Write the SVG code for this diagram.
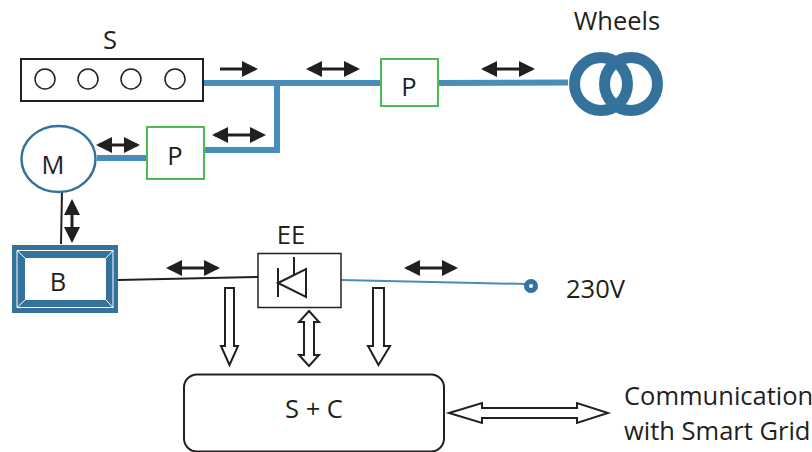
<svg xmlns="http://www.w3.org/2000/svg" width="812" height="452" viewBox="0 0 812 452">
<style>
text{font-family:"Open Sans","Noto Sans","Liberation Sans",sans-serif;fill:#231f20;font-size:25.500px}
.m{text-anchor:middle}
.pipe{fill:none;stroke:#4a8dbb;stroke-width:6}
.blk{fill:none;stroke:#231f20}
.green{fill:#fff;stroke:#4cbb52;stroke-width:2}
.hollow{fill:#fff;stroke:#231f20;stroke-width:2}
.ring{fill:none;stroke:#34729b;stroke-width:11}
.da{stroke:#231f20;stroke-width:3;fill:none;marker-start:url(#ah);marker-end:url(#ah)}
</style>
<defs>
<marker id="ah" viewBox="0 0 16 16" refX="13" refY="8" markerWidth="16" markerHeight="16" markerUnits="userSpaceOnUse" orient="auto-start-reverse"><path d="M0 0L16 8L0 16Z" fill="#231f20"/></marker>
<marker id="ah1" viewBox="0 0 16 16" refX="13" refY="8" markerWidth="16" markerHeight="16" markerUnits="userSpaceOnUse" orient="auto"><path d="M0 0L16 8L0 16Z" fill="#231f20"/></marker>
</defs>
<g id="connectors">
<path class="pipe" d="M203 83H381M277 83V150H204"/>
<path class="pipe" d="M97 158H147"/>
<path class="pipe" d="M438 83L568 82.500"/>
<path class="blk" stroke-width="2" d="M62 191L61 244"/>
<path class="blk" stroke-width="2" d="M118 280L258 277"/>
<path fill="none" stroke="#4a8dbb" stroke-width="2" d="M341 280L526 284"/>
<path d="M220 69H255" stroke="#231f20" stroke-width="3" fill="none" marker-end="url(#ah1)"/>
<path class="da" d="M309 69H357"/>
<path class="da" d="M484 69H532"/>
<path class="da" d="M215 135H263"/>
<path class="da" d="M99 145H137"/>
<path class="da" d="M72 202V240"/>
<path class="da" d="M169 268H217"/>
<path class="da" d="M407 268H455"/>
<path class="hollow" d="M225 288H234V346H238L229.500 365L221 346H225Z"/>
<path class="hollow" d="M309 311L319 322H314V355H319L309 366L299 355H304V322H299Z"/>
<path class="hollow" d="M373 288H384V346H390L378.500 365L368 346H373Z"/>
<path class="hollow" d="M449 413L482 403V408H577V403L608 413L577 423V418H482V423Z"/>
</g>
<g id="node-s">
<text class="m" x="110" y="49">S</text>
<rect class="blk" stroke-width="2" x="21" y="59" width="182" height="42"/>
<g class="blk" stroke-width="1.500"><circle cx="45" cy="79" r="10"/><circle cx="88" cy="79" r="10"/><circle cx="131" cy="79" r="10"/><circle cx="175" cy="79" r="10"/></g>
</g>
<g id="node-p1">
<rect class="green" x="147" y="127" width="57" height="52"/>
<text class="m" x="175" y="165">P</text>
</g>
<g id="node-p2">
<rect class="green" x="381" y="59" width="57" height="47"/>
<text class="m" x="409" y="96">P</text>
</g>
<g id="node-m">
<ellipse cx="58.500" cy="159" rx="37" ry="33" fill="#fff" stroke="#34729b" stroke-width="2.500"/>
<text class="m" x="53" y="174">M</text>
</g>
<g id="node-wheels">
<text class="m" x="617" y="30">Wheels</text>
<circle class="ring" cx="601" cy="84" r="26.500"/>
<circle class="ring" cx="631" cy="84" r="26.500"/>
</g>
<g id="node-b">
<rect x="12" y="245" width="106" height="68" fill="#34729b"/>
<path d="M17 250.500H113V307.500H17ZM17 250.500L25 258M113 250.500L106 258M17 307.500L25 300M113 307.500L106 300" fill="none" stroke="#fff" stroke-width="1"/>
<rect x="25" y="258" width="81" height="42" fill="#fff"/>
<text class="m" x="58" y="291">B</text>
</g>
<g id="node-ee">
<text class="m" x="291" y="244">EE</text>
<rect class="blk" stroke-width="1.500" x="258" y="253.500" width="83" height="54" fill="#fff"/>
<path class="blk" stroke-width="2" d="M278 268V297M278 283L306 269V297ZM294 257V276"/>
</g>
<g id="node-230v">
<circle cx="531" cy="286" r="4.500" fill="#fff" stroke="#34729b" stroke-width="5"/>
<text x="566" y="298">230V</text>
</g>
<g id="node-sc">
<rect class="blk" stroke-width="2" x="184" y="374.500" width="260" height="77" rx="13"/>
<text class="m" x="314" y="418">S + C</text>
</g>
<g id="node-comm">
<text x="624" y="405">Communication</text>
<text x="624" y="440">with Smart Grid</text>
</g>
</svg>
